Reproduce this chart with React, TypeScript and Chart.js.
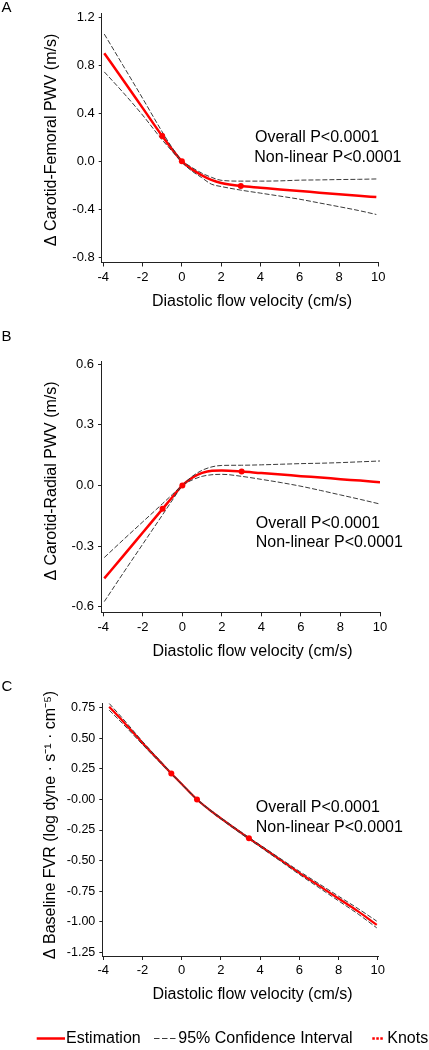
import React, { useEffect, useRef } from 'react';
import { Chart, registerables } from 'chart.js';

Chart.register(...registerables);

const FONT = '"Liberation Sans", Arial, Helvetica, sans-serif';
const RED = '#ff0000';
const CI_COLOR = '#3a3a3a';
const AXIS_COLOR = '#222222';

// ---------- shared x axis ----------
const xTickValues = [-4, -2, 0, 2, 4, 6, 8, 10];
const xTickLabels = ['-4', '-2', '0', '2', '4', '6', '8', '10'];

// ---------- Panel A: Carotid-Femoral PWV ----------
const aX = [-3.95, -3, -2, -1, -0.5, 0, 0.5, 1, 1.5, 2, 3, 4, 5, 6, 7, 8, 9, 9.9];
const aEstimate = [0.9, 0.68, 0.445, 0.21, 0.1, 0, -0.065, -0.115, -0.155, -0.18, -0.206, -0.22, -0.234, -0.247, -0.261, -0.274, -0.287, -0.298];
const aUpper = [1.06, 0.8, 0.525, 0.245, 0.115, 0.008, -0.05, -0.097, -0.133, -0.158, -0.165, -0.165, -0.163, -0.157, -0.155, -0.152, -0.15, -0.147];
const aLower = [0.745, 0.575, 0.385, 0.178, 0.085, -0.008, -0.08, -0.135, -0.19, -0.21, -0.24, -0.265, -0.29, -0.316, -0.347, -0.378, -0.41, -0.443];
const aKnotX = [-1, 0, 3];
const aKnotY = [0.21, 0, -0.206];
const aYTickValues = [-0.8, -0.4, 0, 0.4, 0.8, 1.2];
const aYTickLabels = ['-0.8', '-0.4', '0.0', '0.4', '0.8', '1.2'];

// ---------- Panel B: Carotid-Radial PWV ----------
const bX = [-3.95, -3, -2, -1, -0.5, 0, 0.5, 1, 1.5, 2, 3, 4, 5, 6, 7, 8, 9, 10];
const bEstimate = [-0.46, -0.35, -0.233, -0.116, -0.057, 0, 0.038, 0.062, 0.073, 0.074, 0.069, 0.061, 0.054, 0.046, 0.039, 0.031, 0.024, 0.016];
const bUpper = [-0.357, -0.27, -0.18, -0.09, -0.044, 0.002, 0.045, 0.075, 0.092, 0.099, 0.1, 0.102, 0.105, 0.108, 0.11, 0.113, 0.117, 0.121];
const bLower = [-0.575, -0.435, -0.29, -0.145, -0.072, -0.002, 0.027, 0.045, 0.053, 0.055, 0.045, 0.03, 0.014, -0.004, -0.025, -0.047, -0.069, -0.092];
const bKnotX = [-1, 0, 3];
const bKnotY = [-0.116, 0, 0.069];
const bYTickValues = [-0.6, -0.3, 0, 0.3, 0.6];
const bYTickLabels = ['-0.6', '-0.3', '0.0', '0.3', '0.6'];

// ---------- Panel C: Baseline FVR ----------
const cX = [-3.7, -3, -2, -1, -0.53, 0, 0.78, 1.5, 2, 3, 3.43, 4, 5, 6, 7, 8, 9, 9.95];
const cEstimate = [0.758, 0.64, 0.462, 0.292, 0.213, 0.126, 0, -0.095, -0.155, -0.27, -0.318, -0.38, -0.49, -0.6, -0.705, -0.81, -0.915, -1.025];
const cUpper = [0.785, 0.66, 0.474, 0.299, 0.218, 0.13, 0.004, -0.09, -0.149, -0.263, -0.311, -0.372, -0.48, -0.587, -0.689, -0.791, -0.893, -0.995];
const cLower = [0.73, 0.618, 0.449, 0.284, 0.208, 0.122, -0.004, -0.1, -0.161, -0.277, -0.325, -0.388, -0.5, -0.613, -0.721, -0.829, -0.937, -1.05];
const cKnotX = [-0.53, 0.78, 3.43];
const cKnotY = [0.213, 0, -0.318];
const cYTickValues = [-1.25, -1, -0.75, -0.5, -0.25, 0, 0.25, 0.5, 0.75];
const cYTickLabels = ['-1.25', '-1.00', '-0.75', '-0.50', '-0.25', '-0.00', '0.25', '0.50', '0.75'];

// ---------- texts ----------
const xTitle = 'Diastolic flow velocity (cm/s)';
const pLine1 = 'Overall P<0.0001';
const pLine2 = 'Non-linear P<0.0001';
const legendLabels = ['Estimation', '95% Confidence Interval', 'Knots'];

type TextItem = { text: string; x: number; y: number; size: number; rotate?: boolean; align?: CanvasTextAlign };

const toPoints = (xs: number[], ys: number[]) => xs.map((x, i) => ({ x, y: ys[i] }));

const textPlugin = {
  id: 'panelText',
  afterDraw(chart: any, _args: any, opts: any) {
    const ctx: CanvasRenderingContext2D = chart.ctx;
    const off = opts.offsetTop || 0;
    const items: TextItem[] = opts.items || [];
    for (const it of items) {
      ctx.save();
      ctx.font = `${it.size}px ${FONT}`;
      ctx.fillStyle = '#000';
      ctx.textBaseline = 'middle';
      ctx.textAlign = it.align || 'left';
      ctx.translate(it.x, it.y - off);
      if (it.rotate) ctx.rotate(-Math.PI / 2);
      ctx.fillText(it.text, 0, 0);
      ctx.restore();
    }
    const lg = opts.legend;
    if (lg) {
      const y = lg.y - off;
      ctx.save();
      // estimation
      ctx.strokeStyle = RED;
      ctx.lineWidth = 2.5;
      ctx.beginPath();
      ctx.moveTo(36.7, y);
      ctx.lineTo(65, y);
      ctx.stroke();
      // CI
      ctx.strokeStyle = CI_COLOR;
      ctx.lineWidth = 1.2;
      ctx.setLineDash([5.5, 2.5]);
      ctx.beginPath();
      ctx.moveTo(154, y);
      ctx.lineTo(177, y);
      ctx.stroke();
      // knots
      ctx.strokeStyle = RED;
      ctx.lineWidth = 2.5;
      ctx.setLineDash([2.5, 1.5]);
      ctx.beginPath();
      ctx.moveTo(372.3, y);
      ctx.lineTo(384, y);
      ctx.stroke();
      ctx.setLineDash([]);
      ctx.font = `16px ${FONT}`;
      ctx.fillStyle = '#000';
      ctx.textBaseline = 'middle';
      ctx.textAlign = 'left';
      ctx.fillText(lg.labels[0], 66, y + 0.5);
      ctx.fillText(lg.labels[1], 178.3, y + 0.5);
      ctx.fillText(lg.labels[2], 387.3, y + 0.5);
      ctx.restore();
    }
  },
};

type Spec = {
  top: number;
  height: number;
  area: { left: number; top: number; right: number; bottom: number };
  xMin: number;
  xMax: number;
  yMin: number;
  yMax: number;
  yTickValues: number[];
  yTickLabels: string[];
  yTickSize: number;
  xs: number[];
  est: number[];
  upper: number[];
  lower: number[];
  knotX: number[];
  knotY: number[];
  estWidth: number;
  texts: TextItem[];
  legend?: { y: number; labels: string[] };
};

const Y_W = 60;
const X_H = 30;

function buildConfig(s: Spec): any {
  const padding = {
    left: s.area.left - Y_W,
    top: s.area.top - s.top,
    right: 429 - s.area.right,
    bottom: s.top + s.height - s.area.bottom - X_H,
  };
  return {
    type: 'line',
    data: {
      datasets: [
        {
          label: 'Knots',
          data: toPoints(s.knotX, s.knotY),
          showLine: false,
          pointRadius: 3,
          pointBackgroundColor: RED,
          pointBorderColor: RED,
          pointBorderWidth: 0,
          order: 0,
        },
        {
          label: 'Upper 95% CI',
          data: toPoints(s.xs, s.upper),
          borderColor: CI_COLOR,
          borderWidth: 1,
          borderDash: [5, 2],
          pointRadius: 0,
          cubicInterpolationMode: 'monotone',
          fill: false,
          order: 1,
        },
        {
          label: 'Lower 95% CI',
          data: toPoints(s.xs, s.lower),
          borderColor: CI_COLOR,
          borderWidth: 1,
          borderDash: [5, 2],
          pointRadius: 0,
          cubicInterpolationMode: 'monotone',
          fill: false,
          order: 1,
        },
        {
          label: 'Estimation',
          data: toPoints(s.xs, s.est),
          borderColor: RED,
          borderWidth: s.estWidth,
          pointRadius: 0,
          cubicInterpolationMode: 'monotone',
          fill: false,
          order: 2,
        },
      ],
    },
    options: {
      responsive: false,
      animation: false,
      devicePixelRatio: 1,
      events: [],
      layout: { autoPadding: false, padding },
      plugins: {
        legend: { display: false },
        tooltip: { enabled: false },
        title: { display: false },
        panelText: { offsetTop: s.top, items: s.texts, legend: s.legend },
      },
      scales: {
        x: {
          type: 'linear',
          min: s.xMin,
          max: s.xMax,
          afterBuildTicks: (sc: any) => {
            sc.ticks = xTickValues.map((v) => ({ value: v }));
          },
          afterFit: (sc: any) => {
            sc.height = X_H;
          },
          border: { display: true, color: AXIS_COLOR, width: 1 },
          grid: { display: true, drawOnChartArea: false, drawTicks: true, tickLength: 4, color: AXIS_COLOR },
          ticks: {
            autoSkip: false,
            maxRotation: 0,
            padding: 3,
            color: '#000',
            font: { family: FONT, size: 13 },
            callback: (_v: any, i: number) => xTickLabels[i],
          },
        },
        y: {
          type: 'linear',
          min: s.yMin,
          max: s.yMax,
          afterBuildTicks: (sc: any) => {
            sc.ticks = s.yTickValues.map((v) => ({ value: v }));
          },
          afterFit: (sc: any) => {
            sc.width = Y_W;
          },
          border: { display: true, color: AXIS_COLOR, width: 1 },
          grid: { display: true, drawOnChartArea: false, drawTicks: true, tickLength: 3, color: AXIS_COLOR },
          ticks: {
            autoSkip: false,
            padding: 4,
            color: '#000',
            font: { family: FONT, size: s.yTickSize },
            callback: (_v: any, i: number) => s.yTickLabels[i],
          },
        },
      },
    },
    plugins: [textPlugin],
  };
}

const specs: Spec[] = [
  {
    top: 0,
    height: 325,
    area: { left: 101.7, top: 13.3, right: 378.5, bottom: 262.5 },
    xMin: -4.081,
    xMax: 10.01,
    yMin: -0.843,
    yMax: 1.233,
    yTickValues: aYTickValues,
    yTickLabels: aYTickLabels,
    yTickSize: 13,
    xs: aX,
    est: aEstimate,
    upper: aUpper,
    lower: aLower,
    knotX: aKnotX,
    knotY: aKnotY,
    estWidth: 2.5,
    texts: [
      { text: 'A', x: 1.5, y: 7.5, size: 15 },
      { text: 'Δ Carotid-Femoral PWV (m/s)', x: 52, y: 140, size: 16, rotate: true, align: 'center' },
      { text: xTitle, x: 252, y: 302, size: 16, align: 'center' },
      { text: pLine1, x: 255, y: 138, size: 16 },
      { text: pLine2, x: 254.3, y: 157.5, size: 16 },
    ],
  },
  {
    top: 325,
    height: 340,
    area: { left: 101, top: 361, right: 380, bottom: 612.3 },
    xMin: -4.116,
    xMax: 10,
    yMin: -0.628,
    yMax: 0.616,
    yTickValues: bYTickValues,
    yTickLabels: bYTickLabels,
    yTickSize: 13,
    xs: bX,
    est: bEstimate,
    upper: bUpper,
    lower: bLower,
    knotX: bKnotX,
    knotY: bKnotY,
    estWidth: 2.5,
    texts: [
      { text: 'B', x: 1.5, y: 337, size: 15 },
      { text: 'Δ Carotid-Radial PWV (m/s)', x: 52, y: 481, size: 16, rotate: true, align: 'center' },
      { text: xTitle, x: 252.5, y: 652, size: 16, align: 'center' },
      { text: pLine1, x: 255.7, y: 523.5, size: 16 },
      { text: pLine2, x: 255.7, y: 543, size: 16 },
    ],
  },
  {
    top: 665,
    height: 385,
    area: { left: 102.3, top: 703.3, right: 378.7, bottom: 956 },
    xMin: -4.051,
    xMax: 10.05,
    yMin: -1.28,
    yMax: 0.786,
    yTickValues: cYTickValues,
    yTickLabels: cYTickLabels,
    yTickSize: 12.5,
    xs: cX,
    est: cEstimate,
    upper: cUpper,
    lower: cLower,
    knotX: cKnotX,
    knotY: cKnotY,
    estWidth: 2.2,
    texts: [
      { text: 'C', x: 1.5, y: 687, size: 15 },
      { text: 'Δ Baseline FVR (log dyne · s⁻¹ · cm⁻⁵)', x: 51, y: 825, size: 16, rotate: true, align: 'center' },
      { text: xTitle, x: 252.5, y: 995, size: 16, align: 'center' },
      { text: pLine1, x: 255.7, y: 808, size: 16 },
      { text: pLine2, x: 255.7, y: 828, size: 16 },
    ],
    legend: { y: 1038.5, labels: legendLabels },
  },
];

function Panel({ spec }: { spec: Spec }) {
  const ref = useRef<HTMLCanvasElement>(null);
  useEffect(() => {
    const canvas = ref.current;
    if (!canvas) return;
    const chart = new Chart(canvas, buildConfig(spec));
    return () => {
      chart.destroy();
    };
  }, [spec]);
  return (
    <canvas
      ref={ref}
      width={429}
      height={spec.height}
      style={{ position: 'absolute', left: 0, top: spec.top, width: 429, height: spec.height, display: 'block' }}
    />
  );
}

export default function App() {
  return (
    <div style={{ position: 'absolute', left: 0, top: 0, width: 429, height: 1050, background: '#fff', overflow: 'hidden' }}>
      {specs.map((s, i) => (
        <Panel key={i} spec={s} />
      ))}
    </div>
  );
}
